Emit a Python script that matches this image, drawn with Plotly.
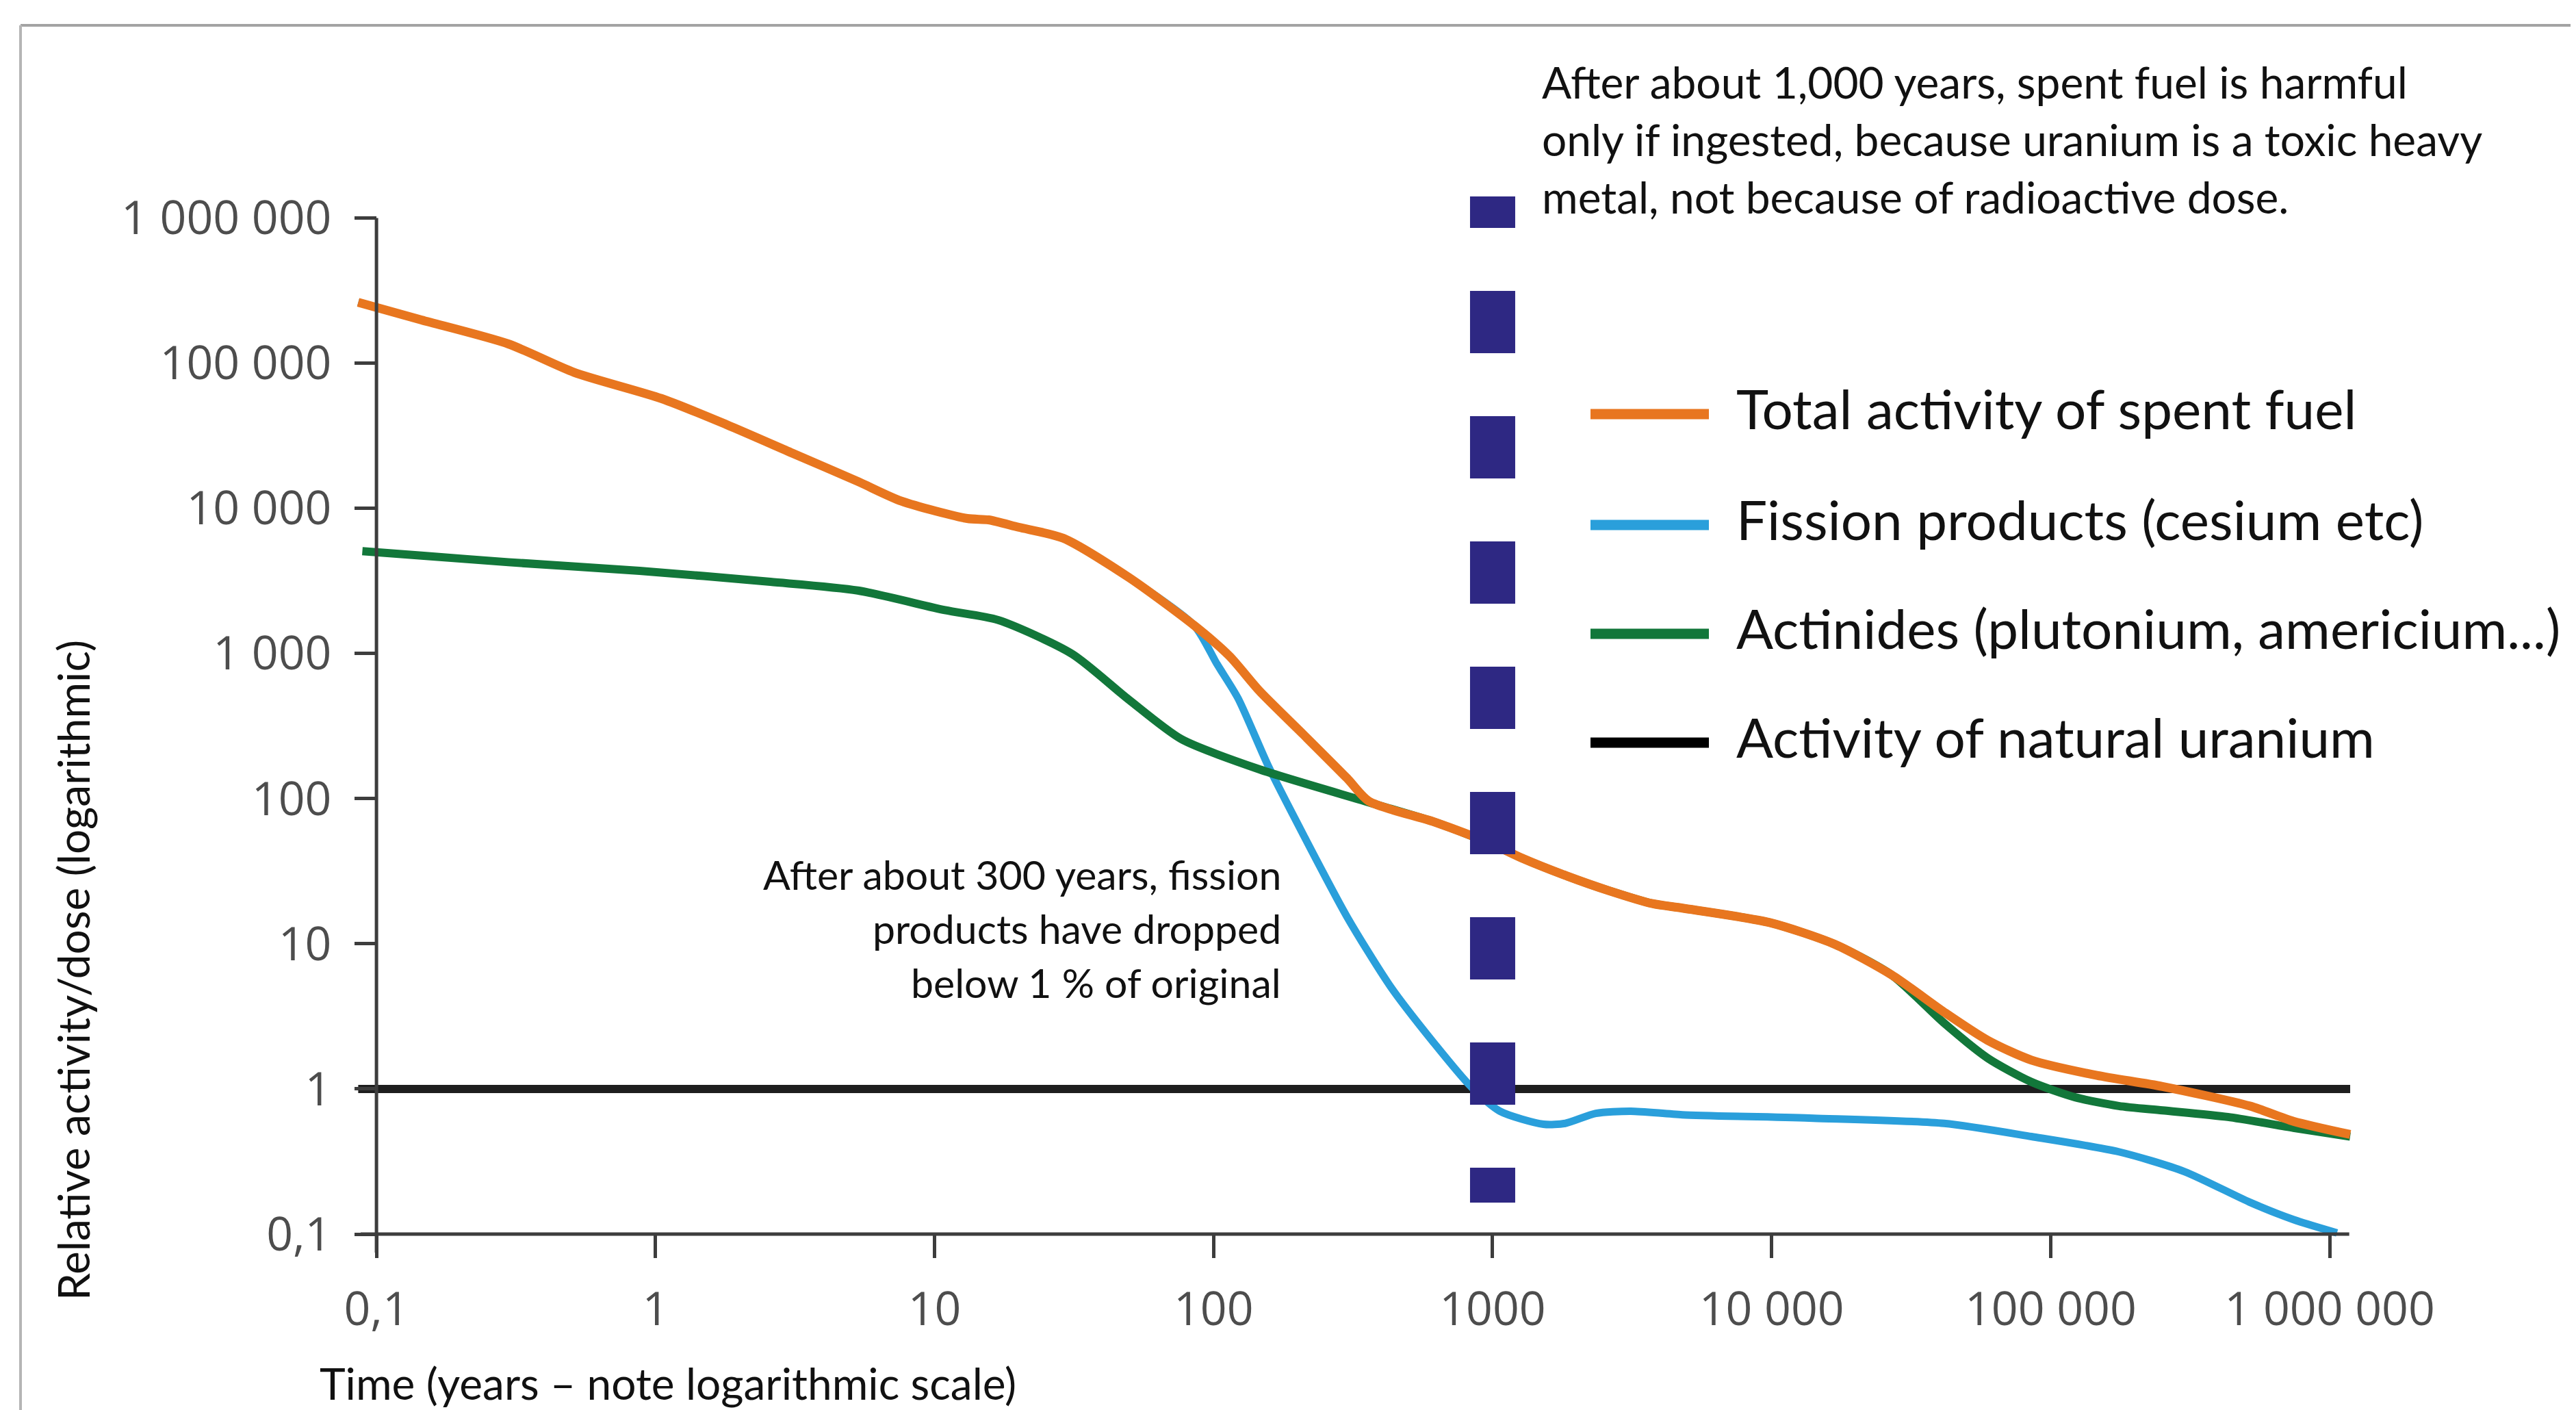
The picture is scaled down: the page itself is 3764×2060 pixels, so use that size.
import plotly.graph_objects as go

# ---------------- data ----------------
SERIES_NAMES = [
    "Total activity of spent fuel",
    "Fission products (cesium etc)",
    "Actinides (plutonium, americium...)",
    "Activity of natural uranium",
]
SERIES_COLORS = ["#E8761F", "#2A9FDB", "#12773A", "#1E1E1E"]

TIME_TOTAL = [0.086, 0.145, 0.297, 0.511, 1.05, 1.80, 3.09, 5.31, 7.61, 13.1, 15.6, 20.0,
              28.9, 49.7, 85.3, 114, 146, 210, 301, 360, 618, 988, 1271, 1820, 2612, 3740,
              4786, 9840, 16870, 26960, 41520, 59500, 85350, 146500, 251500, 516500, 741000,
              1184000]
VAL_TOTAL = [262000, 198200, 135500, 86300, 57000, 37640, 24000, 15300, 11200, 8500, 8320, 7400,
             6220, 3336, 1556, 959, 552, 276, 138, 96, 69, 48.9, 39.0, 29.6, 23.2, 18.9,
             17.6, 14.0, 9.9, 6.09, 3.38, 2.16, 1.58, 1.24, 1.04, 0.763, 0.599,
             0.486]

TIME_FISSION = [0.086, 0.145, 0.297, 0.511, 1.05, 1.80, 3.09, 5.31, 7.61, 13.1, 15.6, 20.0,
                28.9, 49.7, 85.3, 102.8, 122.3, 157.4, 210, 301, 431, 618, 839, 1061,
                1522, 1820, 2344, 3126, 4786, 14090, 41520, 85350, 175400, 301000, 516500,
                741000, 1062000]
VAL_FISSION = [262000, 198200, 135500, 86300, 57000, 37640, 24000, 15300, 11200, 8500, 8320, 7400,
               6220, 3336, 1556, 847, 492, 166.2, 56.1, 15.3, 5.06, 2.06, 1.03, 0.703,
               0.571, 0.579, 0.679, 0.703, 0.664, 0.629, 0.579, 0.470, 0.369, 0.270, 0.166,
               0.126, 0.102]

TIME_ACTINIDES = [0.089, 0.145, 0.297, 0.877, 2.58, 5.31, 10.9, 16.9, 31.1, 49.7, 76.6, 146.6,
                  360, 618, 988, 1271, 1820, 2612, 3740, 4786, 9840, 16870, 26960, 41520,
                  59500, 85350, 122400, 175400, 251500, 431500, 741000, 1184000]
VAL_ACTINIDES = [5060, 4720, 4250, 3706, 3113, 2712, 1986, 1698, 993, 480, 257, 158.6,
                 94.3, 69, 48.9, 39.0, 29.6, 23.2, 18.9, 17.6, 14.0, 9.9, 6.09, 2.84,
                 1.63, 1.117, 0.876, 0.763, 0.712, 0.641, 0.540, 0.470]

TIME_URANIUM = [0.086, 1184000]
VAL_URANIUM = [1, 1]

MARKER_TIME = [1000, 1000]          # "after about 1,000 years" dashed marker
MARKER_VAL = [2.29e6, 0.165]

X_TICK_VALS = [0.1, 1, 10, 100, 1000, 10000, 100000, 1000000]
X_TICK_TEXT = ["0,1", "1", "10", "100", "1000", "10 000", "100 000", "1 000 000"]
Y_TICK_VALS = [0.1, 1, 10, 100, 1000, 10000, 100000, 1000000]
Y_TICK_TEXT = ["0,1", "1", "10", "100", "1 000", "10 000", "100 000", "1 000 000"]

NOTE_1000 = ["After about 1,000 years, spent fuel is harmful",
             "only if ingested, because uranium is a toxic heavy",
             "metal, not because of radioactive dose."]
NOTE_300 = ["After about 300 years, fission",
            "products have dropped",
            "below 1 % of original"]
X_TITLE = "Time (years \u2013 note logarithmic scale)"
Y_TITLE = "Relative activity/dose (logarithmic)"

# ---------------- layout geometry ----------------
W, H = 3764, 2060
PLOT_L, PLOT_R, PLOT_T, PLOT_B = 505, 3432, 279, 1805
X_RANGE_LOG = [-1.091, 6.088]
Y_RANGE_LOG = [-1.047, 6.148]

TEXT_FONT = "Lato"
TICK_FONT = "Open Sans"


def paper_x(px):
    return (px - PLOT_L) / (PLOT_R - PLOT_L)


def paper_y(py):
    return (PLOT_B - py) / (PLOT_B - PLOT_T)


def lx_paper(lx):
    return (lx - X_RANGE_LOG[0]) / (X_RANGE_LOG[1] - X_RANGE_LOG[0])


def ly_paper(ly):
    return (ly - Y_RANGE_LOG[0]) / (Y_RANGE_LOG[1] - Y_RANGE_LOG[0])


YAXIS_POS = lx_paper(-1)
XAXIS_POS = ly_paper(-1)

fig = go.Figure()

# draw order: uranium, fission, actinides, total, marker
order = [3, 1, 2, 0]
series = {
    0: (TIME_TOTAL, VAL_TOTAL, 13),
    1: (TIME_FISSION, VAL_FISSION, 11),
    2: (TIME_ACTINIDES, VAL_ACTINIDES, 12),
    3: (TIME_URANIUM, VAL_URANIUM, 12),
}
for i in order:
    xs, ys, w = series[i]
    fig.add_trace(go.Scatter(
        x=xs, y=ys, mode="lines", name=SERIES_NAMES[i], showlegend=False,
        line=dict(color=SERIES_COLORS[i], width=w,
                  shape="spline" if i != 3 else "linear", smoothing=0.7),
        hoverinfo="skip"))

fig.add_trace(go.Scatter(
    x=MARKER_TIME, y=MARKER_VAL, mode="lines", showlegend=False, name="1000 years",
    line=dict(color="#2E2883", width=66, dash="91px,92px"), hoverinfo="skip"))

shapes = []
axis_col = "#3d3d3d"
# axis lines
shapes.append(dict(type="line", xref="paper", yref="paper",
                   x0=YAXIS_POS, x1=YAXIS_POS, y0=paper_y(1822), y1=ly_paper(6),
                   line=dict(color=axis_col, width=5)))
shapes.append(dict(type="line", xref="paper", yref="paper",
                   x0=paper_x(519), x1=lx_paper(6.07), y0=XAXIS_POS, y1=XAXIS_POS,
                   line=dict(color=axis_col, width=5)))
# outer frame
shapes.append(dict(type="line", xref="paper", yref="paper",
                   x0=paper_x(22), x1=paper_x(W + 5), y0=paper_y(29), y1=paper_y(29),
                   line=dict(color="#a3a3a3", width=4)))
shapes.append(dict(type="line", xref="paper", yref="paper",
                   x0=paper_x(22), x1=paper_x(22), y0=paper_y(29), y1=paper_y(H + 5),
                   line=dict(color="#b5b5b5", width=4)))

annotations = []
# manual legend
LEG_Y = [597, 759, 918, 1077]
for i, name in enumerate(SERIES_NAMES):
    shapes.append(dict(type="line", xref="paper", yref="paper",
                       x0=paper_x(2316), x1=paper_x(2489),
                       y0=paper_y(LEG_Y[i]), y1=paper_y(LEG_Y[i]),
                       line=dict(color=SERIES_COLORS[i] if i != 3 else "#000000", width=15)))
    annotations.append(dict(text=name, xref="paper", yref="paper",
                            x=paper_x(2527), y=paper_y(LEG_Y[i] - 9),
                            xanchor="left", yanchor="middle", showarrow=False,
                            font=dict(family=TEXT_FONT, size=80, color="#111111")))

# notes
for k, line in enumerate(NOTE_1000):
    base = [145, 229.5, 313.7][k]
    annotations.append(dict(text=line, xref="paper", yref="paper",
                            x=paper_x(2243), y=paper_y(base - 34),
                            xanchor="left", yanchor="middle", showarrow=False,
                            font=dict(family=TEXT_FONT, size=64, color="#111111")))
for k, line in enumerate(NOTE_300):
    cy = [1269, 1348, 1427][k]
    annotations.append(dict(text=line, xref="paper", yref="paper",
                            x=paper_x(1866), y=paper_y(cy),
                            xanchor="right", yanchor="middle", showarrow=False,
                            font=dict(family=TEXT_FONT, size=59, color="#111111")))

# axis titles
annotations.append(dict(text=X_TITLE, xref="paper", yref="paper",
                        x=paper_x(457), y=paper_y(2012), xanchor="left", yanchor="middle",
                        showarrow=False,
                        font=dict(family=TEXT_FONT, size=64, color="#111111")))
annotations.append(dict(text=Y_TITLE, xref="paper", yref="paper",
                        x=paper_x(98), y=paper_y(1410), xanchor="center", yanchor="middle",
                        textangle=-90, showarrow=False,
                        font=dict(family=TEXT_FONT, size=64, color="#111111")))

fig.update_layout(
    width=W, height=H,
    margin=dict(l=PLOT_L, r=W - PLOT_R, t=PLOT_T, b=H - PLOT_B, pad=0),
    paper_bgcolor="white", plot_bgcolor="white",
    showlegend=False,
    shapes=shapes, annotations=annotations,
    xaxis=dict(type="log", range=X_RANGE_LOG, showgrid=False, zeroline=False, showline=False,
               tickvals=X_TICK_VALS, ticktext=X_TICK_TEXT, ticks="outside", ticklen=34,
               tickwidth=5, tickcolor=axis_col, anchor="free", position=XAXIS_POS,
               tickfont=dict(family=TICK_FONT, size=68, color="#4d4d4d"),
               ticklabelstandoff=16),
    yaxis=dict(type="log", range=Y_RANGE_LOG, showgrid=False, zeroline=False, showline=False,
               tickvals=Y_TICK_VALS, ticktext=Y_TICK_TEXT, ticks="outside", ticklen=32,
               tickwidth=5, tickcolor=axis_col, anchor="free", position=YAXIS_POS,
               tickfont=dict(family=TICK_FONT, size=68, color="#4d4d4d"),
               ticklabelstandoff=20),
)

fig.write_html("out.html")
